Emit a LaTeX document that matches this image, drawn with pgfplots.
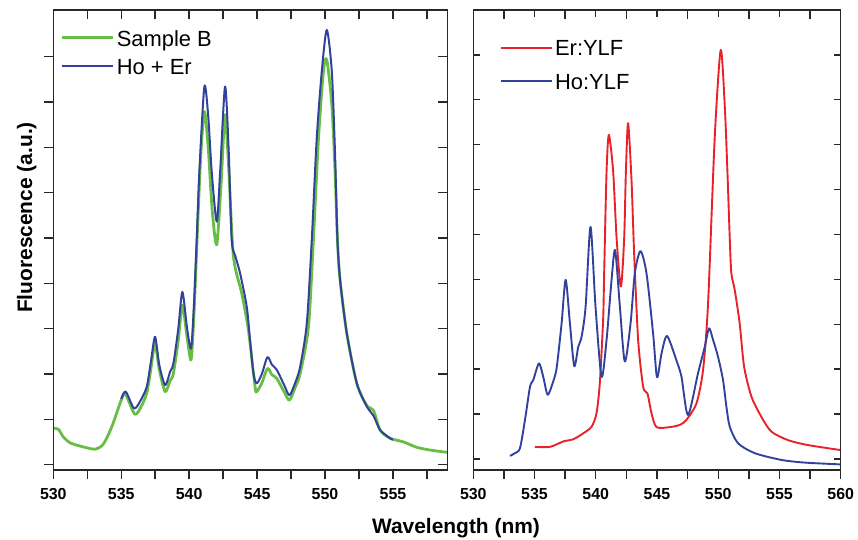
\documentclass[border=0pt]{standalone}
\usepackage{fontspec}
\setmainfont{Liberation Sans}
\usepackage{pgfplots}
\pgfplotsset{compat=1.18}

\definecolor{sampleB}{RGB}{104,189,69}
\definecolor{hoer}{RGB}{50,66,156}
\definecolor{erylf}{RGB}{232,34,40}
\definecolor{frame}{RGB}{40,40,40}

\pgfplotsset{
  spectrum/.style={
    scale only axis, anchor=south west,
    height=460bp,
    axis line style={frame, line width=1.4bp},
    every tick/.style={frame, line width=1.4bp},
    major tick length=9bp, minor tick length=9bp,
    xtick={530,535,...,560}, minor x tick num=1,
    ytick={0,...,9},
    /pgf/number format/assume math mode=true,
    tick label style={font=\fontsize{16}{18}\selectfont\bfseries},
    xticklabel style={inner sep=0pt, anchor=north, yshift=-9bp},
    legend cell align=left,
    legend image code/.code={\draw[##1] (0bp,2.9bp) -- (51bp,2.9bp);},
  },
  bareticks/.style={xticklabels={}, yticklabels={}, tick align=inside},
  smoothline/.style={smooth, tension=0.45, line join=round},
}

\begin{document}
\begin{tikzpicture}
\path[use as bounding box] (0bp,0bp) rectangle (858bp,540bp);

% ---------- left panel: sample B against the Ho + Er sum ----------
\begin{axis}[spectrum, at={(53.3bp,70bp)}, width=394bp,
  xmin=530, xmax=559, ymin=-0.12, ymax=10.03,
  xtick pos=bottom, ytick pos=left, tick align=outside,
  yticklabels={},
  legend style={draw=none, fill=none, inner sep=0pt,
    at={(0.019,0.9565)}, anchor=north west,
    row sep=7.5bp, column sep=2bp,
    font=\fontsize{22}{26}\selectfont,
    nodes={inner sep=0pt, text height=15.8bp, text depth=5bp}},
]
\addplot[sampleB, line width=2.8bp, smoothline] coordinates {
(530.0,0.80) (530.37,0.78) (530.74,0.61) (531.23,0.48) (532.2,0.39)
(533.07,0.34) (533.68,0.45) (534.3,0.83) (535.0,1.42) (535.3,1.56)
(536.0,1.11) (536.5,1.30) (536.9,1.60) (537.2,2.15) (537.49,2.67)
(537.8,2.10) (538.23,1.61) (538.6,1.85) (538.84,2.01) (539.2,2.75)
(539.5,3.52) (539.85,2.80) (540.14,2.31) (540.35,3.30) (540.6,5.10)
(540.85,6.80) (541.12,7.79) (541.4,7.00) (541.7,5.60) (542.03,4.85)
(542.35,6.20) (542.64,7.72) (542.9,6.60) (543.26,4.59) (543.87,3.78)
(544.36,2.97) (544.85,1.72) (544.97,1.61) (545.35,1.80) (545.76,2.12)
(546.1,1.98) (546.45,1.90) (547.0,1.60) (547.38,1.42) (547.8,1.70)
(548.17,2.01) (548.78,3.04) (549.15,4.99) (549.52,7.20) (549.88,8.67)
(550.13,8.93) (550.5,7.94) (550.74,6.46) (550.91,4.99) (551.1,4.10)
(551.6,2.90) (552.34,1.79) (553.08,1.30) (553.56,1.20) (554.06,0.76)
(554.79,0.58) (555.77,0.50) (556.76,0.38) (557.74,0.32) (558.97,0.27)
};
\addlegendentry{Sample B}
\addplot[hoer, line width=2.0bp, smoothline] coordinates {
(535.0,1.45) (535.33,1.61) (535.94,1.24) (536.4,1.40) (536.88,1.72)
(537.2,2.30) (537.49,2.82) (537.8,2.20) (538.23,1.75) (538.6,2.05)
(538.84,2.23) (539.2,3.00) (539.5,3.81) (539.85,3.00) (540.14,2.56)
(540.35,3.50) (540.56,4.99) (540.75,6.46) (541.12,8.34) (541.4,7.70)
(541.66,6.46) (542.03,5.36) (542.28,6.46) (542.64,8.34) (542.9,7.00)
(543.13,4.96) (543.4,4.60) (543.75,4.22) (544.24,3.48) (544.48,2.75)
(544.73,2.01) (544.97,1.79) (545.35,2.00) (545.76,2.37) (546.1,2.20)
(546.45,2.09) (547.0,1.75) (547.38,1.53) (547.8,1.80) (548.17,2.16)
(548.66,3.12) (549.03,4.99) (549.39,7.20) (549.76,8.67) (550.13,9.59)
(550.5,8.67) (550.74,6.83) (550.91,4.99) (551.1,4.10) (551.6,2.90)
(552.34,1.79) (553.08,1.28) (553.56,1.08) (554.06,0.76) (554.79,0.58)
(555.0,0.55)
};
\addlegendentry{Ho + Er}
\end{axis}
\begin{axis}[spectrum, bareticks, at={(53.3bp,70bp)}, width=394bp,
  xmin=530, xmax=559, ymin=-0.12, ymax=10.03,
  xtick pos=top, ytick pos=right]
\end{axis}

% ---------- right panel: the single-ion crystals ----------
\begin{axis}[spectrum, at={(473.3bp,70bp)}, width=367.4bp,
  xmin=530, xmax=560, ymin=-0.245, ymax=10.0,
  xtick pos=bottom, ytick=\empty, tick align=outside,
  legend style={draw=none, fill=none, inner sep=0pt,
    at={(0.0727,0.9348)}, anchor=north west,
    row sep=12.5bp, column sep=2bp,
    font=\fontsize{22}{26}\selectfont,
    nodes={inner sep=0pt, text height=15.8bp, text depth=5bp}},
]
\addplot[erylf, line width=1.9bp, smoothline] coordinates {
(535.03,0.27) (536.26,0.27) (537.34,0.39) (538.16,0.44) (538.97,0.57)
(539.66,0.72) (540.06,1.02) (540.33,1.69) (540.6,3.10) (540.69,4.20)
(540.88,6.40) (541.07,7.22) (541.42,6.40) (541.7,4.92) (542.05,3.84)
(542.32,4.92) (542.46,6.40) (542.64,7.48) (542.92,6.20) (543.13,4.60)
(543.46,2.65) (543.87,1.61) (544.22,1.46) (544.55,1.02) (544.96,0.71)
(546.04,0.71) (546.86,0.76) (547.4,0.87) (548.22,1.24) (548.76,1.98)
(549.17,3.47) (549.71,7.14) (550.2,9.11) (550.53,7.88) (550.75,6.40)
(550.94,4.92) (551.07,4.14) (551.35,3.76) (551.75,3.02) (552.11,2.06)
(552.71,1.39) (553.52,0.94) (554.34,0.61) (555.7,0.42) (557.33,0.31)
(559.97,0.20)
};
\addlegendentry{Er:YLF}
\addplot[hoer, line width=1.9bp, smoothline] coordinates {
(533.0,0.07) (533.4,0.13) (533.81,0.24) (534.22,0.87) (534.63,1.61)
(534.9,1.76) (535.36,2.13) (535.71,1.83) (536.07,1.43) (536.48,1.69)
(536.8,2.02) (537.21,3.02) (537.54,3.99) (537.89,3.02) (538.24,2.07)
(538.57,2.50) (538.84,2.72) (539.17,3.39) (539.57,5.17) (539.98,3.39)
(540.47,1.83) (540.88,2.65) (541.29,3.99) (541.58,4.65) (541.97,3.39)
(542.37,2.17) (542.84,3.02) (543.19,4.14) (543.65,4.63) (544.14,4.14)
(544.68,2.80) (545.0,1.82) (545.37,2.35) (545.82,2.74) (546.58,2.20)
(547.0,1.83) (547.53,0.98) (548.35,1.91) (548.9,2.50) (549.25,2.91)
(549.58,2.65) (549.98,2.28) (550.39,1.76) (550.67,1.16) (550.94,0.72)
(551.62,0.35) (552.98,0.13) (555.15,-0.02) (557.05,-0.08) (559.97,-0.12)
};
\addlegendentry{Ho:YLF}
\end{axis}
\begin{axis}[spectrum, bareticks, at={(473.3bp,70bp)}, width=367.4bp,
  xmin=530, xmax=560, ymin=-0.245, ymax=10.0,
  xtick pos=top, ytick pos=both, major tick length=7bp,
  ytick={0,...,9}]
\end{axis}

% shared axis titles
\node[font=\fontsize{21}{24}\selectfont\bfseries, anchor=base]
  at (456bp,7bp) {Wavelength (nm)};
\node[font=\fontsize{21}{24}\selectfont\bfseries, rotate=90, anchor=base]
  at (32bp,322.5bp) {Fluorescence (a.u.)};
\end{tikzpicture}
\end{document}
